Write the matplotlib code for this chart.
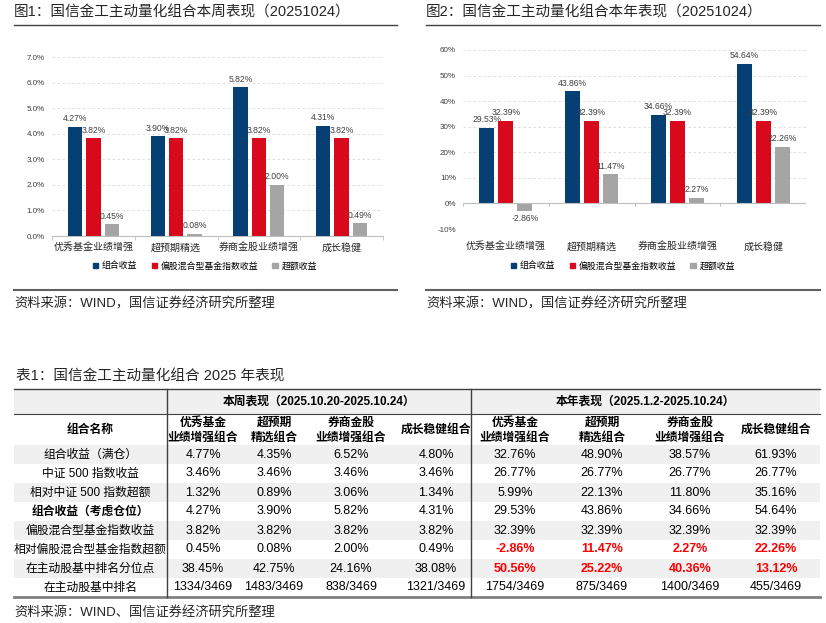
import matplotlib
matplotlib.use("Agg")
import matplotlib.pyplot as plt
import numpy as np
from matplotlib.patches import Rectangle, Patch
from matplotlib.ticker import FuncFormatter

plt.rcParams['font.family'] = ['Liberation Sans', 'Noto Sans CJK SC', 'DejaVu Sans']
plt.rcParams['axes.unicode_minus'] = False

# ---- data ----
categories = ['优秀基金业绩增强', '超预期精选', '券商金股业绩增强', '成长稳健']
series_names = ['组合收益', '偏股混合型基金指数收益', '超额收益']
week_port = [4.27, 3.90, 5.82, 4.31]
week_bench = [3.82, 3.82, 3.82, 3.82]
week_excess = [0.45, 0.08, 2.00, 0.49]
year_port = [29.53, 43.86, 34.66, 54.64]
year_bench = [32.39, 32.39, 32.39, 32.39]
year_excess = [-2.86, 11.47, 2.27, 22.26]

row_labels = ['组合收益（满仓）', '中证 500 指数收益', '相对中证 500 指数超额', '组合收益（考虑仓位）',
              '偏股混合型基金指数收益', '相对偏股混合型基金指数超额', '在主动股基中排名分位点', '在主动股基中排名']
col_labels = ['优秀基金\n业绩增强组合', '超预期\n精选组合', '券商金股\n业绩增强组合', '成长稳健组合']
table_week = [
    ['4.77%', '4.35%', '6.52%', '4.80%'],
    ['3.46%', '3.46%', '3.46%', '3.46%'],
    ['1.32%', '0.89%', '3.06%', '1.34%'],
    ['4.27%', '3.90%', '5.82%', '4.31%'],
    ['3.82%', '3.82%', '3.82%', '3.82%'],
    ['0.45%', '0.08%', '2.00%', '0.49%'],
    ['38.45%', '42.75%', '24.16%', '38.08%'],
    ['1334/3469', '1483/3469', '838/3469', '1321/3469'],
]
table_year = [
    ['32.76%', '48.90%', '38.57%', '61.93%'],
    ['26.77%', '26.77%', '26.77%', '26.77%'],
    ['5.99%', '22.13%', '11.80%', '35.16%'],
    ['29.53%', '43.86%', '34.66%', '54.64%'],
    ['32.39%', '32.39%', '32.39%', '32.39%'],
    ['-2.86%', '11.47%', '2.27%', '22.26%'],
    ['50.56%', '25.22%', '40.36%', '13.12%'],
    ['1754/3469', '875/3469', '1400/3469', '455/3469'],
]
red_rows = [5, 6]  # year section rows shown in bold red

NAVY = "#053F74"
RED = "#D8091C"
GREY = "#A5A5A5"
TXT = "#404040"
COLORS = [NAVY, RED, GREY]

W, H = 826, 623
fig = plt.figure(figsize=(W / 100, H / 100), dpi=100)

# overlay axes in pixel coordinates for titles, rules and the table
ov = fig.add_axes([0, 0, 1, 1])
ov.set_xlim(0, W)
ov.set_ylim(H, 0)
ov.autoscale(False)
ov.axis("off")
ov.patch.set_alpha(0)


def px_axes(x0, x1, y_top, y_bot):
    return fig.add_axes([x0 / W, 1 - y_bot / H, (x1 - x0) / W, (y_bot - y_top) / H])


def bar_chart(ax, series, ylim, step, fmt, label_pad):
    x = np.arange(len(categories))
    width, gap = 0.175, 0.222
    for i, (vals, c) in enumerate(zip(series, COLORS)):
        bars = ax.bar(x + (i - 1) * gap, vals, width=width, color=c, zorder=3)
        ax.bar_label(bars, labels=[f"{v:.2f}%" for v in vals], padding=2.5, fontsize=6.2, color=TXT)
    ax.set_xlim(-0.5, len(categories) - 0.5)
    ax.set_ylim(*ylim)
    ax.set_yticks(np.arange(ylim[0], ylim[1] + step / 2, step))
    ax.yaxis.set_major_formatter(FuncFormatter(fmt))
    ax.grid(axis="y", color="#d9d9d9", linestyle=(0, (3, 3)), linewidth=0.6, zorder=0)
    for s in ["top", "right", "left"]:
        ax.spines[s].set_visible(False)
    ax.set_xticks(x)
    ax.set_xticklabels(categories, fontsize=7.2, color="#262626")
    ax.tick_params(axis="x", length=0, pad=label_pad)
    ax.tick_params(axis="y", length=0, pad=5, labelsize=5.8, labelcolor=TXT)
    bounds = np.arange(len(categories) + 1) - 0.5
    return bounds


# ---- chart 1 ----
ax1 = px_axes(52, 383, 57, 236)
b = bar_chart(ax1, [week_port, week_bench, week_excess], (0, 7), 1, lambda v, _: f"{v:.1f}%", 5)
ax1.spines["bottom"].set_color("#bfbfbf")
ax1.set_xticks(b, minor=True)
ax1.tick_params(axis="x", which="minor", length=3, color="#bfbfbf")

# ---- chart 2 ----
ax2 = px_axes(463, 806, 50, 229)
b = bar_chart(ax2, [year_port, year_bench, year_excess], (-10, 60), 10, lambda v, _: f"{v:.0f}%", 9)
ax2.spines["bottom"].set_visible(False)
ax2.axhline(0, color="#bfbfbf", linewidth=0.8, zorder=4)
ax2.vlines(b, -1.2, 0, color="#bfbfbf", linewidth=0.8, zorder=4)

# legends
handles = [Patch(color=c) for c in COLORS]
for cx in (205, 623):
    fig.legend(handles, series_names, loc="center", bbox_to_anchor=(cx / W, 1 - 266 / H), ncol=3,
               frameon=False, fontsize=6.4, handlelength=0.6, handleheight=0.6, handletextpad=0.4,
               columnspacing=1.6)

# titles / footers of the two charts
for x0, x1, title in [(14, 397, "图1：国信金工主动量化组合本周表现（20251024）"),
                      (426, 820, "图2：国信金工主动量化组合本年表现（20251024）")]:
    ov.text(x0, 13, title, fontsize=10.5, color="#262626", va="center", ha="left")
    ov.plot([x0, x1], [25, 25], color="#404040", linewidth=1)
    ov.plot([x0, x1], [290, 290], color="#606060", linewidth=1.5)
    ov.text(x0, 304, "资料来源：WIND，国信证券经济研究所整理", fontsize=9.5, color="#262626", va="center")

# ---- table ----
ov.text(16, 377, "表1：国信金工主动量化组合 2025 年表现", fontsize=10.5, color="#262626", va="center")
x_edges = [14, 167, 471, 820]
week_cx = [203, 274, 351, 436]
year_cx = [515, 602, 690, 776]
top, h1, h2, rh = 389, 414, 445, 19
shade = "#f0f0f0"
ov.add_patch(Rectangle((x_edges[0], top), x_edges[-1] - x_edges[0], h1 - top, color=shade, lw=0))
for r in range(len(row_labels)):
    if r % 2 == 0:
        ov.add_patch(Rectangle((x_edges[0], h2 + r * rh), x_edges[-1] - x_edges[0], rh, color=shade, lw=0))
bottom = h2 + len(row_labels) * rh

ov.text((x_edges[1] + x_edges[2]) / 2, (top + h1) / 2, "本周表现（2025.10.20-2025.10.24）",
        fontsize=8.5, fontweight="bold", ha="center", va="center")
ov.text((x_edges[2] + x_edges[3]) / 2, (top + h1) / 2, "本年表现（2025.1.2-2025.10.24）",
        fontsize=8.5, fontweight="bold", ha="center", va="center")
ov.text((x_edges[0] + x_edges[1]) / 2, (h1 + h2) / 2, "组合名称", fontsize=8.5, fontweight="bold",
        ha="center", va="center")
for cxs in (week_cx, year_cx):
    for cx, lab in zip(cxs, col_labels):
        ov.text(cx, (h1 + h2) / 2 + 0.5, lab, fontsize=8.5, fontweight="bold", ha="center", va="center",
                linespacing=1.3)

for r, lab in enumerate(row_labels):
    cy = h2 + r * rh + rh / 2
    ov.text((x_edges[0] + x_edges[1]) / 2, cy, lab, fontsize=8.5, ha="center", va="center",
            fontweight="bold" if r == 3 else "normal")
    for cx, v in zip(week_cx, table_week[r]):
        ov.text(cx, cy, v, fontsize=9, ha="center", va="center")
    for cx, v in zip(year_cx, table_year[r]):
        red = r in red_rows
        ov.text(cx, cy, v, fontsize=9, ha="center", va="center",
                color="#FF0000" if red else "black", fontweight="bold" if red else "normal")

ov.plot([x_edges[0], x_edges[-1]], [top, top], color="#404040", linewidth=1)
ov.plot([x_edges[0], x_edges[-1]], [h1, h1], color="#404040", linewidth=0.8)
ov.plot([x_edges[0], x_edges[-1]], [bottom, bottom], color="#808080", linewidth=2)
for xv in x_edges[1:3]:
    ov.plot([xv, xv], [top, bottom], color="#404040", linewidth=1)

ov.text(14, 612, "资料来源：WIND、国信证券经济研究所整理", fontsize=9.5, color="#262626", va="center")

fig.savefig("out.png", dpi=100)
